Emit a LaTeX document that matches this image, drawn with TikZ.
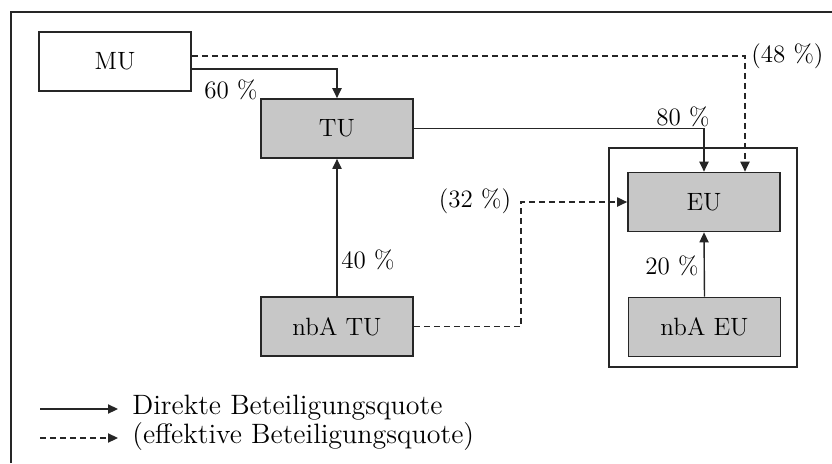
\documentclass[tikz,border=0pt]{standalone}
\usetikzlibrary{arrows.meta}

\begin{document}
\begin{tikzpicture}[x=0.5pt, y=-0.5pt, font=\fontsize{12.5}{14}\selectfont]
\tikzstyle{basic}=[draw=black!85, line width=0.85pt]
\tikzstyle{firm}=[basic, fill=white, minimum width=76pt, minimum height=29.5pt, inner sep=0pt]
\tikzstyle{sub}=[firm, fill=black!22]
\tikzstyle{groupbox}=[basic, minimum width=94pt, minimum height=109.5pt, inner sep=0pt]
\tikzstyle{edgestyle}=[line width=0.7pt, draw=black!85, -{Triangle[length=5pt,width=4.6pt]}]
\tikzstyle{effstyle}=[edgestyle, dash pattern=on 3pt off 2pt]
\tikzstyle{quote}=[inner sep=1pt]
\tikzstyle{legend}=[quote, anchor=west, font=\fontsize{14}{16}\selectfont]
\useasboundingbox (0,0) rectangle (832,463);
\draw[line width=1pt, black!85] (10.5,463) -- (10.5,11.5) -- (832,11.5);

\node[groupbox] (grp) at (703,257.5) {};
\node[firm] (mu) at (115,61.5) {MU};
\node[sub] (tu) at (337,128.5) {TU};
\node[sub] (nbatu) at (337,326.5) {nbA TU};
\node[sub] (eu) at (704,202) {EU};
\node[sub] (nbaeu) at (704.5,327) {nbA EU};

%direkte Quoten
\draw[edgestyle] ([yshift=-3.75pt]mu.east) -| (tu.north);
\node[quote] (q60) at (231,90) {60 \%};
\draw[edgestyle] (tu.east) -| (eu.north);
\node[quote] (q80) at (683,117) {80 \%};
\draw[edgestyle] (nbatu.north) -- (tu.south);
\node[quote] (q40) at (368,260) {40 \%};
\draw[edgestyle] (nbaeu.north) -- (eu.south);
\node[quote] (q20) at (672,266) {20 \%};

%effektive Quoten
\draw[effstyle] ([yshift=2.75pt]mu.east) -| ([xshift=20.5pt]eu.north);
\node[quote, anchor=west] (q48) at (749,56) {(48 \%)};
\draw[effstyle] (nbatu.east) -- ++(107,0) |- (eu.west);
\node[quote] (q32) at (475,201) {(32 \%)};

%Legende
\coordinate (lg1a) at (40,409);
\coordinate (lg1b) at (118,409);
\coordinate (lg2a) at (40,438);
\coordinate (lg2b) at (118,438);
\draw[edgestyle] (lg1a) -- (lg1b);
\draw[effstyle] (lg2a) -- (lg2b);
\node[legend] (lgt1) at (130,408) {Direkte Beteiligungsquote};
\node[legend] (lgt2) at (130,437) {(effektive Beteiligungsquote)};
\end{tikzpicture}
\end{document}
